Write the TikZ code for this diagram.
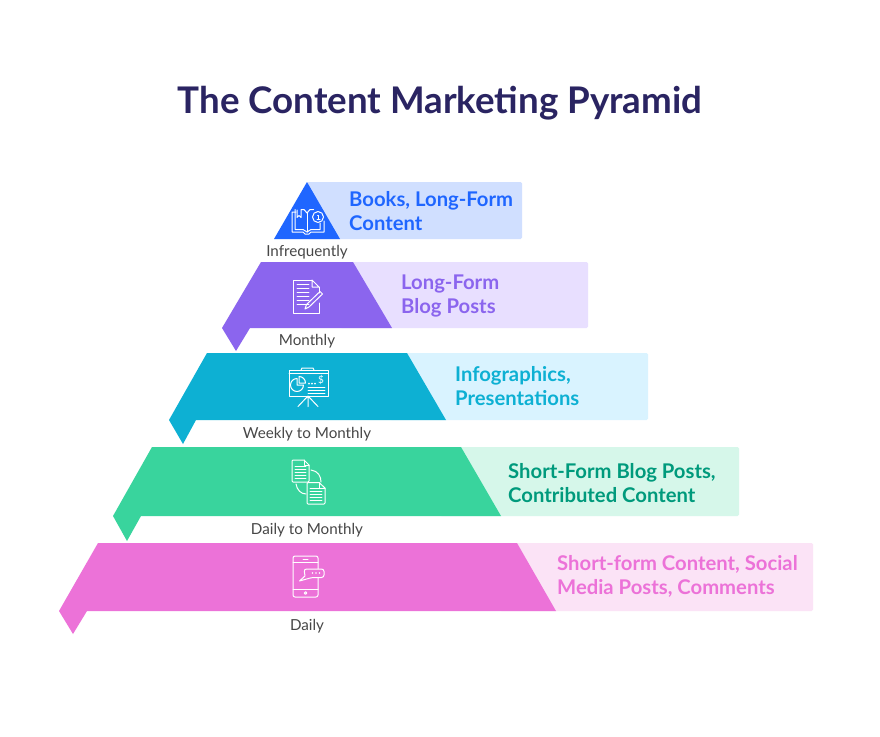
\documentclass[tikz,border=0pt]{standalone}
\usepackage{fontspec}
\setmainfont{Lato}
\definecolor{blueT}{HTML}{1F66FF}
\definecolor{blueP}{HTML}{D0DFFF}
\definecolor{purpleT}{HTML}{8B65EE}
\definecolor{purpleP}{HTML}{E8DFFF}
\definecolor{tealT}{HTML}{0DB0D3}
\definecolor{tealP}{HTML}{D9F3FF}
\definecolor{greenT}{HTML}{39D49D}
\definecolor{greenP}{HTML}{D6F7EA}
\definecolor{greenL}{HTML}{009A7C}
\definecolor{pinkT}{HTML}{EC72D8}
\definecolor{pinkP}{HTML}{FBE3F6}
\definecolor{titlec}{HTML}{2A2462}
\tikzset{
  title/.style={font=\bfseries\fontsize{36.7}{44}\selectfont,text=titlec,inner sep=0},
  rate/.style={font=\fontsize{15.2}{18}\selectfont,text=black!72,inner sep=0},
  topic/.style={font=\bfseries\fontsize{20.25}{24.6}\selectfont,anchor=west,align=left,inner sep=0},
  icon/.style={draw=white,line width=1pt,fill=none,line join=round,line cap=round}
}
\begin{document}
\begin{tikzpicture}[x=1pt,y=-1pt]
  \useasboundingbox (0,0) rectangle (880,736);
  \fill[white] (0,0) rectangle (880,736);
  \node[title] (heading) at (440,103) {The Content Marketing Pyramid};

  % pale bands
  \fill[blueP,rounded corners=1.5pt] (307,182) rectangle (522,239);
  \fill[purpleP,rounded corners=1.5pt] (340,262) rectangle (588,328);
  \fill[tealP,rounded corners=1.5pt] (390,353) rectangle (648,420);
  \fill[greenP,rounded corners=1.5pt] (440,447) rectangle (739,516);
  \fill[pinkP,rounded corners=1.5pt] (500,543) rectangle (813,611);

  % tiers
  \fill[blueT] (307,182) -- (340,239) -- (274,239) -- cycle;
  \foreach \tl/\tr/\br/\lp/\tx/\ix/\top/\bot/\tail/\col in {
    261/353/392/222/236/250/262/328/351/purpleT,
    207/407/446/169/183/196/353/420/444/tealT,
    152/461/501/113/127/141/447/516/541/greenT,
    98/517/556/59/73/87/543/611/634/pinkT}
    \fill[\col] (\tl,\top) -- (\tr,\top) -- (\br,\bot) -- (\ix,\bot) -- (\tx,\tail) -- (\lp,\bot) -- cycle;

  % frequency labels
  \node[rate] (infreq) at (307,252) {Infrequently};
  \node[rate] (monthly) at (307,341) {Monthly};
  \node[rate] (weekly) at (307,434) {Weekly to Monthly};
  \node[rate] (dailym) at (307,530) {Daily to Monthly};
  \node[rate] (daily) at (307,626) {Daily};

  % topics
  \node[topic,text=blueT] (books) at (349,211) {Books, Long-Form\\Content};
  \node[topic,text=purpleT] (blog) at (401,296) {Long-Form\\Blog Posts};
  \node[topic,text=tealT] (info) at (455,386) {Infographics,\\Presentations};
  \node[topic,text=greenL] (short) at (508,483) {Short-Form Blog Posts,\\Contributed Content};
  \node[topic,text=pinkT] (social) at (557,576.5) {Short-form Content, Social\\Media Posts, Comments};

  % book
  \draw[icon] (296,212) -- (292,212) -- (292,232) -- (303,232) -- (305,234) -- (309,234) -- (311,232) -- (324,232) -- (324,221);
  \draw[icon] (295,209.5) -- (295,229.5) -- (303,229.5) -- (307,232) -- (311,229.5) -- (320,229.5) -- (320,223);
  \draw[icon] (307,213) -- (307,232);
  \draw[icon] (301,209.5) -- (304,209.5) -- (307,213) -- (310,209.5) -- (313.5,209.5);
  \draw[icon] (297,210) -- (297,217.5) -- (299,215.5) -- (301,217.5) -- (301,210);
  \draw[icon] (318,217) circle (5.5);
  \draw[icon] (317.5,215) -- (318.5,215) -- (318.5,219.5) (317,219.5) -- (320,219.5);

  % document
  \draw[icon] (312,280) -- (293.5,280) -- (293.5,313) -- (319,313) -- (319,303);
  \draw[icon] (312,280) -- (312,287) -- (319,287) -- cycle;
  \draw[icon] (319,287) -- (319,293);
  \foreach \yy in {284,288,292,296,300,304}
    \draw[icon,line width=.8pt] (297,\yy) -- (309,\yy);
  \draw[icon] (320,291.5) -- (322.5,294) -- (309,307) -- (305,309) -- (306.5,304.5) -- cycle;

  % presentation board
  \draw[icon] (289,370) rectangle (328,396);
  \draw[icon] (289,373.5) -- (328,373.5);
  \draw[icon] (301,370) -- (302,368) -- (313,368) -- (314,370);
  \draw[icon] (297,378.5) arc (270:0:6.5) -- (297,385) -- cycle;
  \draw[icon] (299,376.5) arc (270:360:6.5) -- (299,383) -- cycle;
  \foreach \xx in {309,312,315}
    \fill[white] (\xx,383.5) circle (1);
  \node[font=\fontsize{10}{10}\selectfont,text=white,inner sep=0] (dollar) at (321,379.5) {\$};
  \foreach \yy in {387,390,393}
    \draw[icon,line width=.8pt] (308,\yy) -- (325,\yy);
  \draw[icon] (308,396) -- (298,406.5) (308,396) -- (308,406.5) (308,396) -- (318,406.5);

  % two documents
  \draw[icon] (304,460) -- (293,460) -- (292,461) -- (292,481) -- (293,482) -- (308,482) -- (309,481) -- (309,465) -- cycle;
  \draw[icon] (304,460) -- (304,465) -- (309,465);
  \foreach \yy in {466,469,472,475,478}
    \draw[icon,line width=.8pt] (295,\yy) -- (306,\yy);
  \draw[icon] (319,482.5) -- (308,482.5) -- (307,483.5) -- (307,503) -- (308,504) -- (324,504) -- (325,503) -- (325,488) -- cycle;
  \draw[icon] (319,482.5) -- (319,488) -- (325,488);
  \foreach \yy in {488,491,494,497,500}
    \draw[icon,line width=.8pt] (310,\yy) -- (322,\yy);
  \draw[icon] (311,470) .. controls (318,471) and (321,476) .. (321,482);
  \draw[icon] (296,484) .. controls (297,490) and (301,494) .. (306,494);

  % phone
  \draw[icon,rounded corners=2pt] (293,556) rectangle (318,597);
  \draw[icon] (293,562) -- (318,562) (293,589) -- (318,589);
  \draw[icon] (303,559) -- (308,559);
  \draw[icon] (305.5,593) circle (1.3);
  \draw[icon,fill=pinkT] (305,576) [rounded corners=2.5pt] -- (304,569) -- (324,569) -- (324,577.5) -- (312,577.5) [sharp corners] -- (299.5,581) -- cycle;
  \foreach \xx in {312.5,316,319.5}
    \fill[white] (\xx,573) circle (.8);
\end{tikzpicture}
\end{document}
